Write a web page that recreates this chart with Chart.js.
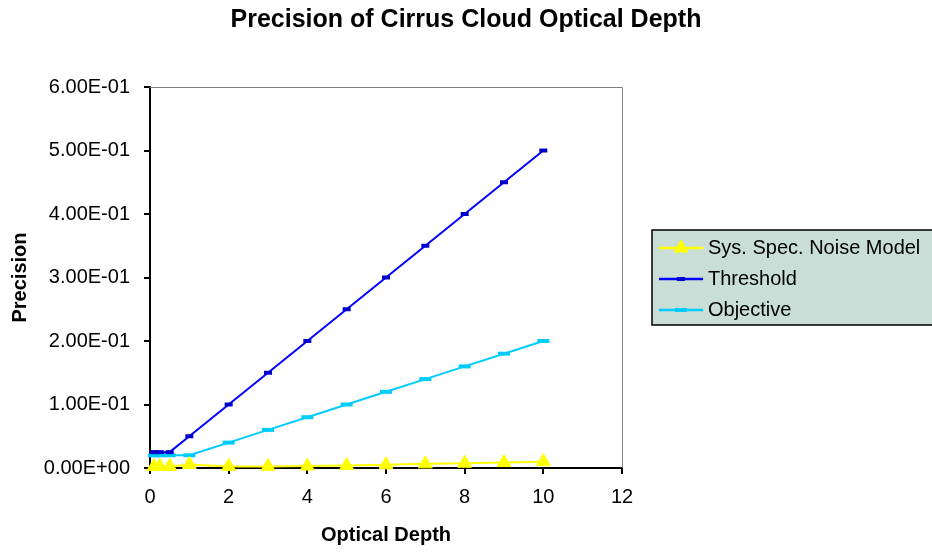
<!DOCTYPE html>
<html>
<head>
<meta charset="utf-8">
<title>Precision of Cirrus Cloud Optical Depth</title>
<script src="https://cdn.jsdelivr.net/npm/chart.js@4/dist/chart.umd.min.js"></script>
<style>
    html, body { margin: 0; padding: 0; background: #fff; }
    #wrap { width: 932px; height: 552px; position: relative; }
</style>
</head>
<body>
<div id="wrap"><canvas id="precision-chart"></canvas></div>
<script>
// Data
const depth = [0.1, 0.25, 0.5, 1, 2, 3, 4, 5, 6, 7, 8, 9, 10];
const sysNoise = [0.0025, 0.0025, 0.0025, 0.0055, 0.0025, 0.0025, 0.003, 0.004, 0.005, 0.0065, 0.0075, 0.0085, 0.01];
const threshold = [0.025, 0.025, 0.025, 0.05, 0.1, 0.15, 0.2, 0.25, 0.3, 0.35, 0.4, 0.45, 0.5];
const objective = [0.02, 0.02, 0.02, 0.02, 0.04, 0.06, 0.08, 0.1, 0.12, 0.14, 0.16, 0.18, 0.2];
const seriesNames = ['Sys. Spec. Noise Model', 'Threshold', 'Objective'];
const xTicks = [0, 2, 4, 6, 8, 10, 12];
const yTicks = [0, 0.1, 0.2, 0.3, 0.4, 0.5, 0.6];

const FONT = '"Liberation Sans", Arial, sans-serif';

function toPoints(values) {
    return depth.map((d, i) => ({ x: d, y: values[i] }));
}

// 6.00E-01 style labels
function sciLabel(v) {
    const parts = Number(v).toExponential(2).split('e');
    const exp = parseInt(parts[1], 10);
    const sign = exp < 0 ? '-' : '+';
    return parts[0] + 'E' + sign + String(Math.abs(exp)).padStart(2, '0');
}

// Gray frame on top and right of the plot area
const framePlugin = {
    id: 'frame',
    beforeDatasetsDraw(chart) {
        const a = chart.chartArea;
        const ctx = chart.ctx;
        ctx.save();
        ctx.strokeStyle = '#808080';
        ctx.lineWidth = 1;
        ctx.beginPath();
        ctx.moveTo(a.left, a.top + 0.5);
        ctx.lineTo(a.right + 0.5, a.top + 0.5);
        ctx.lineTo(a.right + 0.5, a.bottom);
        ctx.stroke();
        ctx.restore();
    }
};

// Excel-like legend box on the right
const legendBoxPlugin = {
    id: 'legendBox',
    afterDraw(chart) {
        const ctx = chart.ctx;
        const left = 652, top = 230, rowGap = 31;
        ctx.save();
        ctx.fillStyle = '#c9ded6';
        ctx.fillRect(left, top, 300, 95);
        ctx.strokeStyle = '#000';
        ctx.lineWidth = 1.5;
        ctx.strokeRect(left, top, 300, 95);

        chart.data.datasets.forEach((ds, i) => {
            const y = top + 18 + i * rowGap;
            // sample line
            ctx.strokeStyle = ds.borderColor;
            ctx.lineWidth = 2.5;
            ctx.beginPath();
            ctx.moveTo(659, y);
            ctx.lineTo(703, y);
            ctx.stroke();
            // marker
            ctx.fillStyle = ds.pointBackgroundColor;
            ctx.strokeStyle = ds.pointBorderColor;
            ctx.lineWidth = ds.pointBorderWidth;
            Chart.helpers.drawPoint(ctx, {
                pointStyle: ds.pointStyle,
                radius: ds.pointRadius,
                borderWidth: ds.pointBorderWidth,
                rotation: 0
            }, 681, y);
            // label
            ctx.font = '20px ' + FONT;
            ctx.textBaseline = 'middle';
            ctx.textAlign = 'left';
            ctx.fillStyle = '#000';
            ctx.fillText(ds.label, 708, y);
        });
        ctx.restore();
    }
};

document.addEventListener('DOMContentLoaded', function() {
    const ctx = document.getElementById('precision-chart').getContext('2d');

    const chart = new Chart(ctx, {
        type: 'line',
        data: {
            datasets: [{
                label: seriesNames[0],
                data: toPoints(sysNoise),
                borderColor: '#ffff00',
                backgroundColor: '#ffff00',
                borderWidth: 2,
                pointStyle: 'triangle',
                pointRadius: 8,
                pointBorderWidth: 1,
                pointBackgroundColor: '#ffff00',
                pointBorderColor: '#ffff00',
                clip: false
            }, {
                label: seriesNames[1],
                data: toPoints(threshold),
                borderColor: '#0000ff',
                backgroundColor: '#0000cc',
                borderWidth: 2,
                pointStyle: 'line',
                pointRadius: 4,
                pointBorderWidth: 4,
                pointBackgroundColor: '#0000cc',
                pointBorderColor: '#0000cc',
                clip: false
            }, {
                label: seriesNames[2],
                data: toPoints(objective),
                borderColor: '#00ccff',
                backgroundColor: '#00ccff',
                borderWidth: 2,
                pointStyle: 'line',
                pointRadius: 6,
                pointBorderWidth: 4,
                pointBackgroundColor: '#00ccff',
                pointBorderColor: '#00ccff',
                clip: false
            }]
        },
        options: {
            responsive: true,
            maintainAspectRatio: false,
            animation: false,
            layout: { padding: 0 },
            plugins: {
                legend: { display: false },
                tooltip: { enabled: false },
                title: {
                    display: true,
                    text: 'Precision of Cirrus Cloud Optical Depth',
                    color: '#000',
                    font: { family: FONT, size: 25, weight: 'bold' },
                    padding: { top: 5.5, bottom: 51.5 }
                }
            },
            scales: {
                x: {
                    type: 'linear',
                    min: xTicks[0],
                    max: xTicks[xTicks.length - 1],
                    afterBuildTicks: s => { s.ticks = xTicks.map(v => ({ value: v })); },
                    afterFit: s => { s.height = 84; },
                    ticks: {
                        color: '#000',
                        font: { family: FONT, size: 20 },
                        padding: 11,
                        maxRotation: 0
                    },
                    grid: { drawOnChartArea: false, tickLength: 6, color: '#000', lineWidth: 2 },
                    border: { display: true, color: '#000', width: 2 },
                    title: {
                        display: true,
                        text: 'Optical Depth',
                        color: '#000',
                        font: { family: FONT, size: 20, weight: 'bold' },
                        padding: { top: 0, bottom: 5 }
                    }
                },
                y: {
                    type: 'linear',
                    min: yTicks[0],
                    max: yTicks[yTicks.length - 1],
                    afterBuildTicks: s => { s.ticks = yTicks.map(v => ({ value: v })); },
                    afterFit: s => { s.width = 150; },
                    ticks: {
                        color: '#000',
                        font: { family: FONT, size: 20 },
                        padding: 14,
                        callback: v => sciLabel(v)
                    },
                    grid: { drawOnChartArea: false, tickLength: 6, color: '#000', lineWidth: 2 },
                    border: { display: true, color: '#000', width: 2 },
                    title: {
                        display: true,
                        text: 'Precision',
                        color: '#000',
                        font: { family: FONT, size: 20, weight: 'bold' },
                        padding: { top: 8, bottom: 0 }
                    }
                },
                // empty right box that reserves room for the legend
                yRight: {
                    position: 'right',
                    display: true,
                    ticks: { display: false },
                    grid: { display: false },
                    border: { display: false },
                    afterFit: s => { s.width = 310; }
                }
            }
        },
        plugins: [framePlugin, legendBoxPlugin]
    });
});
</script>
</body>
</html>
